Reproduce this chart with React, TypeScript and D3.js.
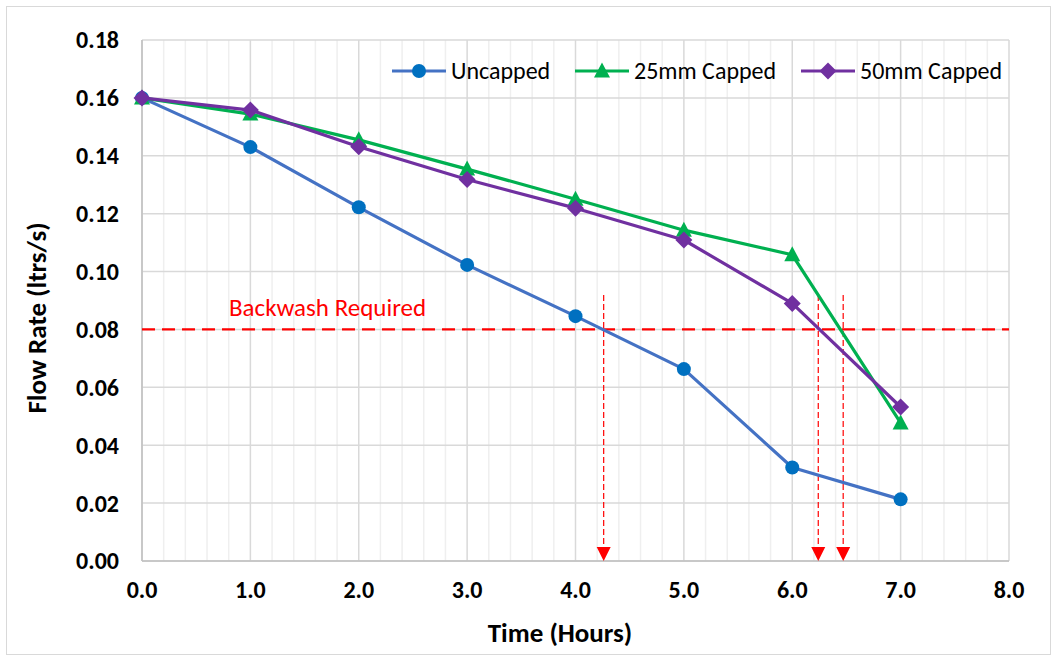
import React, { useEffect, useRef } from 'react';
import * as d3 from 'd3';

const hours = [0, 1, 2, 3, 4, 5, 6, 7];
const uncapped = [0.16, 0.143, 0.1222, 0.1023, 0.0846, 0.0663, 0.0323, 0.0213];
const capped25 = [0.16, 0.1544, 0.1455, 0.1354, 0.125, 0.1143, 0.1058, 0.0477];
const capped50 = [0.16, 0.1558, 0.1431, 0.1318, 0.1219, 0.1109, 0.089, 0.0532];
const backwashLevel = 0.08;
const arrowTimes = [4.26, 6.24, 6.47];
const xTicks = [0, 1, 2, 3, 4, 5, 6, 7, 8];
const yTicks = [0, 0.02, 0.04, 0.06, 0.08, 0.1, 0.12, 0.14, 0.16, 0.18];

const series = [
  { name: 'Uncapped', values: uncapped, line: '#4472C4', fill: '#0070C0', marker: 'circle' },
  { name: '25mm Capped', values: capped25, line: '#00B050', fill: '#00B050', marker: 'triangle' },
  { name: '50mm Capped', values: capped50, line: '#7030A0', fill: '#7030A0', marker: 'diamond' },
];

const W = 1057;
const H = 661;
const font = 'Carlito, Calibri, "Open Sans", sans-serif';

const drawChart = (el: SVGSVGElement) => {
  const svg = d3.select(el);
  svg.selectAll('*').remove();

  const x = d3.scaleLinear().domain([0, 8]).range([142, 1009]);
  const y = d3.scaleLinear().domain([0, 0.18]).range([561, 40]);

  // outer border
  svg.append('rect')
    .attr('x', 6.5).attr('y', 6.5)
    .attr('width', W - 13).attr('height', H - 13)
    .attr('fill', '#fff').attr('stroke', '#d9d9d9');

  // minor vertical grid
  const minor = d3.range(0, 8.001, 0.2).filter(v => Math.abs(v - Math.round(v)) > 0.01);
  svg.append('g').selectAll('line').data(minor).enter().append('line')
    .attr('x1', d => x(d)).attr('x2', d => x(d))
    .attr('y1', y(0.18)).attr('y2', y(0))
    .attr('stroke', '#efefef').attr('stroke-width', 1.5);

  // major grid
  svg.append('g').selectAll('line').data(xTicks).enter().append('line')
    .attr('x1', d => x(d)).attr('x2', d => x(d))
    .attr('y1', y(0.18)).attr('y2', y(0))
    .attr('stroke', '#d9d9d9').attr('stroke-width', 1.5);
  svg.append('g').selectAll('line').data(yTicks).enter().append('line')
    .attr('x1', x(0)).attr('x2', x(8))
    .attr('y1', d => y(d)).attr('y2', d => y(d))
    .attr('stroke', '#d9d9d9').attr('stroke-width', 1.5);

  // axis lines
  svg.append('line').attr('x1', x(0)).attr('x2', x(8)).attr('y1', y(0)).attr('y2', y(0))
    .attr('stroke', '#bfbfbf').attr('stroke-width', 1.5);
  svg.append('line').attr('x1', x(0)).attr('x2', x(0)).attr('y1', y(0.18)).attr('y2', y(0))
    .attr('stroke', '#bfbfbf').attr('stroke-width', 1.5);

  // tick labels
  svg.append('g').selectAll('text').data(yTicks).enter().append('text')
    .attr('x', 119).attr('y', d => y(d)).attr('dy', '0.35em')
    .attr('text-anchor', 'end')
    .attr('font-family', font).attr('font-weight', 'bold').attr('font-size', 24)
    .attr('fill', '#000')
    .text(d => d.toFixed(2));
  svg.append('g').selectAll('text').data(xTicks).enter().append('text')
    .attr('x', d => x(d)).attr('y', 598)
    .attr('text-anchor', 'middle')
    .attr('font-family', font).attr('font-weight', 'bold').attr('font-size', 24)
    .attr('fill', '#000')
    .text(d => d.toFixed(1));

  // axis titles
  svg.append('text')
    .attr('x', 560).attr('y', 642).attr('text-anchor', 'middle')
    .attr('font-family', font).attr('font-weight', 'bold').attr('font-size', 27)
    .text('Time (Hours)');
  svg.append('text')
    .attr('transform', 'translate(46,318) rotate(-90)').attr('text-anchor', 'middle')
    .attr('font-family', font).attr('font-weight', 'bold').attr('font-size', 27)
    .text('Flow Rate (ltrs/s)');

  // backwash line + label
  svg.append('line')
    .attr('x1', x(0)).attr('x2', x(8))
    .attr('y1', y(backwashLevel)).attr('y2', y(backwashLevel))
    .attr('stroke', '#ff0000').attr('stroke-width', 2.2)
    .attr('stroke-dasharray', '13,7');
  svg.append('text')
    .attr('x', 229).attr('y', 316)
    .attr('font-family', font).attr('font-size', 25).attr('fill', '#ff0000')
    .text('Backwash Required');

  // arrows
  const arrows = svg.append('g');
  arrowTimes.forEach(t => {
    arrows.append('line')
      .attr('x1', x(t)).attr('x2', x(t))
      .attr('y1', 295).attr('y2', y(0) - 12)
      .attr('stroke', '#ff0000').attr('stroke-width', 1.2)
      .attr('stroke-dasharray', '6,3');
    const tip = y(0);
    arrows.append('path')
      .attr('d', `M${x(t) - 7},${tip - 14} L${x(t) + 7},${tip - 14} L${x(t)},${tip} Z`)
      .attr('fill', '#ff0000');
  });

  const line = d3.line<number>().x((_, i) => x(hours[i])).y(d => y(d));

  const drawMarker = (g: any, kind: string, cx: number, cy: number, fill: string) => {
    if (kind === 'circle') {
      g.append('circle').attr('cx', cx).attr('cy', cy).attr('r', 7).attr('fill', fill);
    } else if (kind === 'triangle') {
      g.append('path')
        .attr('d', `M${cx},${cy - 8.5} L${cx + 8},${cy + 6.5} L${cx - 8},${cy + 6.5} Z`)
        .attr('fill', fill);
    } else {
      g.append('path')
        .attr('d', `M${cx},${cy - 8.5} L${cx + 8.5},${cy} L${cx},${cy + 8.5} L${cx - 8.5},${cy} Z`)
        .attr('fill', fill);
    }
  };

  series.forEach(s => {
    const g = svg.append('g');
    g.append('path').datum(s.values).attr('d', line)
      .attr('fill', 'none').attr('stroke', s.line).attr('stroke-width', 3.2)
      .attr('stroke-linejoin', 'round');
    s.values.forEach((v, i) => drawMarker(g, s.marker, x(hours[i]), y(v), s.fill));
  });

  // legend
  const legendX = [392, 575, 801];
  series.forEach((s, i) => {
    const g = svg.append('g').attr('transform', `translate(${legendX[i]},71)`);
    g.append('line').attr('x1', 0).attr('x2', 54).attr('y1', 0).attr('y2', 0)
      .attr('stroke', s.line).attr('stroke-width', 3.2);
    drawMarker(g, s.marker, 27, 0, s.fill);
    g.append('text').attr('x', 59).attr('y', 0).attr('dy', '0.35em')
      .attr('font-family', font).attr('font-size', 24).attr('fill', '#000')
      .text(s.name);
  });
};

const App = () => {
  const ref = useRef<SVGSVGElement>(null);
  useEffect(() => {
    if (ref.current) drawChart(ref.current);
  });
  return (
    <div style={{ position: 'absolute', left: 0, top: 0 }}>
      <svg ref={ref} width={W} height={H} style={{ display: 'block' }} />
    </div>
  );
};

export default App;
